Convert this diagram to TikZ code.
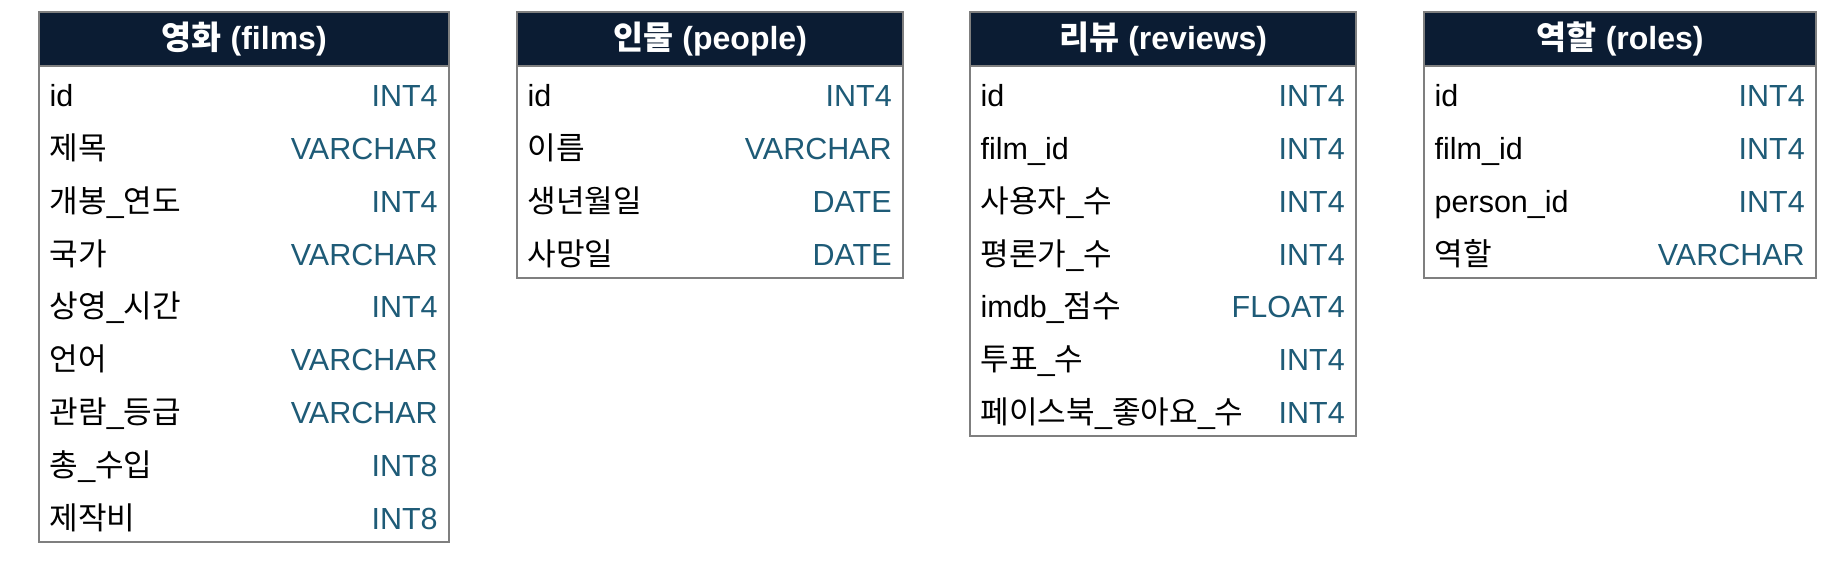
\documentclass[tikz,border=0pt]{standalone}
\usepackage{fontspec}
\setmainfont{Liberation Sans}
\newfontfamily\kr{Noto Sans CJK KR}[Scale=1.02]
\definecolor{hdrcol}{HTML}{0B1C33}
\definecolor{bordercol}{HTML}{7F7F7F}
\definecolor{typecol}{HTML}{1E5B77}
\tikzset{
  hdr/.style={fill=hdrcol, text=white, font=\fontsize{32}{38}\selectfont\bfseries,
    minimum height=54pt, inner sep=0pt, anchor=north west},
  tbl/.style={draw=bordercol, line width=2pt},
  fname/.style={anchor=base west, inner sep=0pt, font=\fontsize{30.5}{36}\selectfont, text=black},
  ftype/.style={anchor=base east, inner sep=0pt, font=\fontsize{30.5}{36}\selectfont, text=typecol},
}
\newcommand\erdtable[5]{%
  \node[hdr, minimum width=#3pt] (#1-h) at (#2,11.7) {#4};
  \foreach \n/\t [count=\i] in {#5} {
    \node[fname] (#1-n\i) at ([xshift=10.5pt,yshift={-(\i-0.5)*52.9pt-13.8pt}]#1-h.south west) {\n};
    \node[ftype] (#1-t\i) at ([xshift=-11.5pt,yshift={-(\i-0.5)*52.9pt-13.8pt}]#1-h.south east) {\t};
    \xdef\lastrow{\i}
  }
  \coordinate (#1-se) at ([yshift={-\lastrow*52.9pt}]#1-h.south east);
  \draw[tbl] (#1-h.north west) rectangle (#1-se);
  \draw[tbl] (#1-h.south west) -- (#1-h.south east);
}
\begin{document}
\begin{tikzpicture}[x=1pt,y=-1pt]
\useasboundingbox[fill=white] (0,0) rectangle (1826,560);
\erdtable{films}{39}{410}{{\kr 영화} (films)}{id/INT4, {\kr 제목}/VARCHAR, {\kr 개봉}\_{\kr 연도}/INT4, {\kr 국가}/VARCHAR, {\kr 상영}\_{\kr 시간}/INT4, {\kr 언어}/VARCHAR, {\kr 관람}\_{\kr 등급}/VARCHAR, {\kr 총}\_{\kr 수입}/INT8, {\kr 제작비}/INT8}
\erdtable{people}{517}{386}{{\kr 인물} (people)}{id/INT4, {\kr 이름}/VARCHAR, {\kr 생년월일}/DATE, {\kr 사망일}/DATE}
\erdtable{reviews}{970}{386}{{\kr 리뷰} (reviews)}{id/INT4, film\_id/INT4, {\kr 사용자}\_{\kr 수}/INT4, {\kr 평론가}\_{\kr 수}/INT4, {imdb\_{\kr 점수}}/FLOAT4, {\kr 투표}\_{\kr 수}/INT4, {\kr 페이스북}\_{\kr 좋아요}\_{\kr 수}/INT4}
\erdtable{roles}{1424}{392}{{\kr 역할} (roles)}{id/INT4, film\_id/INT4, person\_id/INT4, {\kr 역할}/VARCHAR}
\end{tikzpicture}
\end{document}
